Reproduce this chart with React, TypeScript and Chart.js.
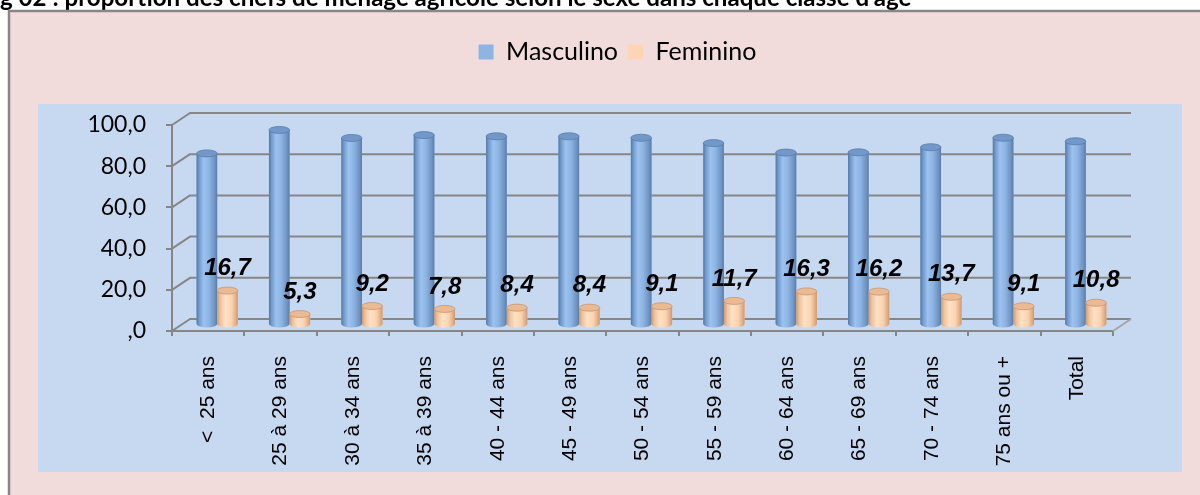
import React, { useEffect, useRef } from 'react';
import { Chart, registerables } from 'chart.js';

Chart.register(...registerables);

const categories = [
  '<  25 ans', '25 à 29 ans', '30 à 34 ans', '35 à 39 ans', '40 - 44 ans', '45 - 49 ans',
  '50 - 54 ans', '55 - 59 ans', '60 - 64 ans', '65 - 69 ans', '70 - 74 ans', '75 ans ou +', 'Total',
];
const masculino = [83.3, 94.7, 90.8, 92.2, 91.6, 91.6, 90.9, 88.3, 83.7, 83.8, 86.3, 90.9, 89.2];
const feminino = [16.7, 5.3, 9.2, 7.8, 8.4, 8.4, 9.1, 11.7, 16.3, 16.2, 13.7, 9.1, 10.8];
const seriesNames = ['Masculino', 'Feminino'];
const yTicks = [0, 20, 40, 60, 80, 100];
const yTickLabels = [',0', '20,0', '40,0', '60,0', '80,0', '100,0'];
const titleText = "Fig 02 : proportion des chefs de ménage agricole selon le sexe dans chaque classe d'âge";

const W = 1200;
const H = 495;
const AXIS = '#868686';
const DEPTH_X = 18;
const DEPTH_Y = -12;
const BAR_DX = 9;
const BAR_DY = -6;
const ELL_RY = 3.5;
const LEGEND_EXTRA = 50.5;
const LEGEND_DX = 61;

const blueStops: [number, string][] = [
  [0, '#56779f'], [0.12, '#7199cb'], [0.35, '#9cc2ef'], [0.6, '#8db4e3'], [0.88, '#6e93c2'], [1, '#5a7ba5'],
];
const orangeStops: [number, string][] = [
  [0, '#cf9a70'], [0.15, '#efc29c'], [0.4, '#fee1c6'], [0.7, '#fad3b0'], [0.9, '#e2ae86'], [1, '#cc976d'],
];

function fmt(v: number) {
  return v.toFixed(1).replace('.', ',');
}

function drawCylinder(c: CanvasRenderingContext2D, x: number, top: number, base: number, w: number,
  stops: [number, string][], topFill: string, topStroke: string) {
  const l = x - w / 2;
  const r = x + w / 2;
  const rx = w / 2;
  const g = c.createLinearGradient(l, 0, r, 0);
  stops.forEach(([o, col]) => g.addColorStop(o, col));
  c.fillStyle = g;
  c.beginPath();
  c.moveTo(l, top);
  c.lineTo(l, base);
  c.ellipse(x, base, rx, ELL_RY, 0, Math.PI, 0, true);
  c.lineTo(r, top);
  c.closePath();
  c.fill();
  c.beginPath();
  c.ellipse(x, top, rx, ELL_RY, 0, 0, Math.PI * 2);
  c.fillStyle = topFill;
  c.fill();
  c.lineWidth = 0.8;
  c.strokeStyle = topStroke;
  c.stroke();
}

const framePlugin = {
  id: 'frame3d',
  afterInit(chart: any) {
    const lg = chart.legend;
    if (lg) {
      const of = lg.fit.bind(lg);
      lg.fit = () => { of(); lg.height += LEGEND_EXTRA; };
      const od = lg.draw.bind(lg);
      lg.draw = () => { const c = lg.ctx; c.save(); c.translate(LEGEND_DX, 0); od(); c.restore(); };
    }
  },
  beforeDraw(chart: any) {
    const c: CanvasRenderingContext2D = chart.ctx;
    c.save();
    c.fillStyle = '#ffffff';
    c.fillRect(0, 0, W, H);
    // title (cut at the top)
    c.font = 'bold 20px Lato';
    const full = c.measureText(titleText).width;
    const pre = c.measureText('Fi').width;
    const size = 20 * 912 / (full - pre);
    c.font = `bold ${size}px Lato`;
    const preW = c.measureText('Fi').width;
    c.fillStyle = '#000';
    c.textBaseline = 'alphabetic';
    c.textAlign = 'left';
    c.fillText(titleText, -preW, 5.5);
    // frame
    c.fillStyle = '#f2dcdb';
    c.fillRect(9, 11, W - 9, H - 11);
    c.strokeStyle = '#878787';
    c.lineWidth = 2.5;
    c.beginPath();
    c.moveTo(9, H);
    c.lineTo(9, 11);
    c.lineTo(W, 11);
    c.stroke();
    c.fillStyle = '#c6d9f1';
    c.fillRect(38, 104, 1144, 368);
    c.restore();
  },
  beforeDatasetsDraw(chart: any) {
    const c: CanvasRenderingContext2D = chart.ctx;
    const ys = chart.scales.y;
    const { left, right } = chart.chartArea;
    c.save();
    c.strokeStyle = AXIS;
    c.lineWidth = 2;
    c.lineJoin = 'round';
    yTicks.forEach((v) => {
      const py = ys.getPixelForValue(v);
      c.beginPath();
      c.moveTo(left, py);
      c.lineTo(left + DEPTH_X, py + DEPTH_Y);
      c.lineTo(right + DEPTH_X, py + DEPTH_Y);
      c.stroke();
    });
    const p0 = ys.getPixelForValue(0);
    c.strokeStyle = '#a6a6a6';
    c.beginPath();
    c.moveTo(right, p0);
    c.lineTo(right + DEPTH_X, p0 + DEPTH_Y);
    c.stroke();
    c.restore();
    c.save();
    c.translate(BAR_DX, BAR_DY);
  },
  afterDatasetsDraw(chart: any) {
    const c: CanvasRenderingContext2D = chart.ctx;
    [0, 1].forEach((di) => {
      const meta = chart.getDatasetMeta(di);
      meta.data.forEach((el: any) => {
        const p = el.getProps(['x', 'y', 'base', 'width'], true);
        if (di === 0) drawCylinder(c, p.x, p.y, p.base, p.width, blueStops, '#7198c8', '#5b7eaa');
        else drawCylinder(c, p.x, p.y, p.base, p.width, orangeStops, '#e9ba93', '#c99670');
      });
    });
    const meta = chart.getDatasetMeta(1);
    c.fillStyle = '#000';
    c.font = 'italic bold 24px "Liberation Sans"';
    c.textAlign = 'center';
    c.textBaseline = 'middle';
    meta.data.forEach((el: any, i: number) => {
      const p = el.getProps(['x', 'y'], true);
      c.fillText(fmt(feminino[i]), p.x, p.y - 22);
    });
    c.restore();
  },
};

export default function App() {
  const ref = useRef<HTMLCanvasElement>(null);
  useEffect(() => {
    if (!ref.current) return;
    const chart = new Chart(ref.current, {
      type: 'bar',
      data: {
        labels: categories,
        datasets: [
          { label: seriesNames[0], data: masculino, backgroundColor: '#8db4e2', borderWidth: 0 },
          { label: seriesNames[1], data: feminino, backgroundColor: '#fcd5b4', borderWidth: 0 },
        ],
      },
      options: {
        responsive: false,
        animation: false,
        devicePixelRatio: 1,
        layout: { padding: { left: 0, right: 87, top: 29.5, bottom: 0 } },
        datasets: { bar: { categoryPercentage: 0.57, barPercentage: 1 } },
        plugins: {
          legend: {
            position: 'top',
            labels: {
              boxWidth: 15,
              boxHeight: 15,
              padding: 10,
              color: '#000',
              font: { family: 'Lato', size: 25 },
            },
          },
          tooltip: { enabled: false },
          title: { display: false },
        },
        scales: {
          x: {
            afterFit: (s: any) => { s.height = 164; },
            grid: { drawOnChartArea: false, drawTicks: true, tickLength: 5, color: AXIS, lineWidth: 2, offset: true },
            border: { color: AXIS, width: 2 },
            ticks: {
              autoSkip: false,
              maxRotation: 90,
              minRotation: 90,
              padding: 20,
              color: '#000',
              font: { family: '"Liberation Sans"', size: 21 },
            },
          },
          y: {
            min: 0,
            max: 100,
            afterFit: (s: any) => { s.width = 172; },
            grid: { drawOnChartArea: false, drawTicks: true, tickLength: 6, color: AXIS, lineWidth: 2 },
            border: { color: AXIS, width: 2 },
            ticks: {
              stepSize: 20,
              padding: 20,
              color: '#000',
              font: { family: 'Lato', size: 23 },
              callback: (v: any) => {
                const i = yTicks.indexOf(Number(v));
                return i >= 0 ? yTickLabels[i] : '';
              },
            },
          },
        },
      },
      plugins: [framePlugin],
    } as any);
    return () => chart.destroy();
  }, []);
  return (
    <div style={{ position: 'absolute', left: 0, top: 0, width: W, height: H }}>
      <canvas ref={ref} width={W} height={H} style={{ display: 'block' }} />
    </div>
  );
}
